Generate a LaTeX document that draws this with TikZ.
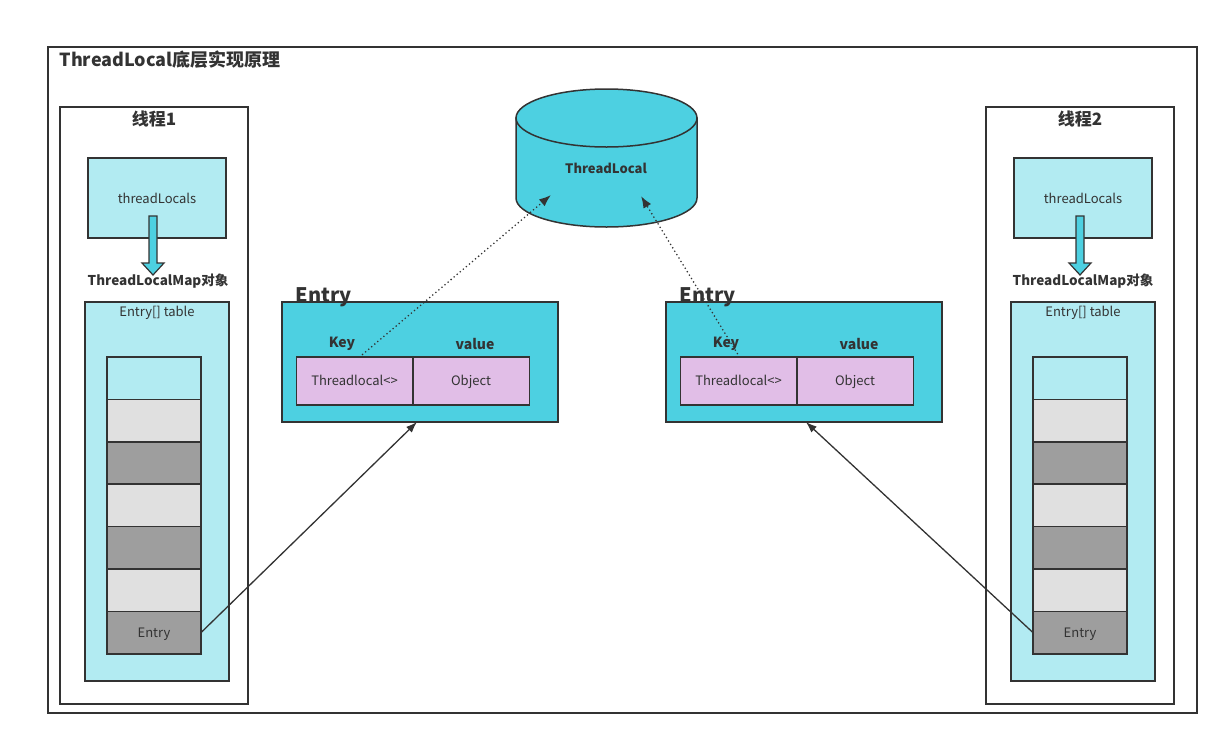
\documentclass[tikz,border=0pt]{standalone}
\usepackage{fontspec}
\setmainfont{Noto Sans CJK SC}
\usetikzlibrary{positioning,arrows.meta,calc}
\definecolor{cyanD}{HTML}{4DD0E1}
\definecolor{cyanL}{HTML}{B2EBF2}
\definecolor{lilac}{HTML}{E1BEE7}
\definecolor{grayD}{HTML}{9E9E9E}
\definecolor{grayL}{HTML}{E0E0E0}
\definecolor{edge}{HTML}{333333}

\begin{document}
\begin{tikzpicture}[
    x=1pt, y=-1pt,
    >=Latex,
    every node/.style={text=edge},
    frame/.style={rectangle, draw=edge, line width=1.5pt, inner sep=0pt, outer sep=0pt, anchor=north west},
    thread/.style={frame, minimum width=188pt, minimum height=597pt},
    locals/.style={frame, fill=cyanL, minimum width=138pt, minimum height=80pt, font=\fontsize{13}{13}\selectfont},
    table/.style={frame, fill=cyanL, minimum width=144pt, minimum height=379pt},
    slot/.style={frame, anchor=center, minimum width=94pt, minimum height=42.4pt, text height=9pt, text depth=0pt, font=\fontsize{13}{13}\selectfont},
    entry/.style={frame, fill=cyanD, minimum width=276pt, minimum height=120pt},
    kv/.style={frame, anchor=center, fill=lilac, minimum width=116.5pt, minimum height=48pt, text height=9pt, text depth=0pt, font=\fontsize{13}{13}\selectfont},
    bold/.style={font=\bfseries\fontsize{#1}{#1}\selectfont},
    ref/.style={->, draw=edge, line width=1.8pt, line cap=round, dash pattern=on 0pt off 4pt, -{Latex[length=12pt,width=9pt]}},
    link/.style={->, draw=edge, line width=1.3pt, -{Latex[length=11pt,width=8pt]}},
    node distance=0pt
  ]
    \useasboundingbox (0,0) rectangle (1229,745);

    % outer frame
    \node[frame, minimum width=1149pt, minimum height=666pt] (outer) at (48,47) {};
    \node[bold=18, anchor=north west] (title) at (56,47) {ThreadLocal底层实现原理};

    % thread 1
    \node[thread] (thA) at (60,107) {};
    \node[bold=17, below=0pt of thA.north] {线程1};
    \node[locals] (locA) at (88,158) {threadLocals};
    \draw[draw=edge, line width=1.2pt, fill=cyanD]
      (149,216) -- (157,216) -- (157,263) -- (164,263) -- (153,275) -- (142,263) -- (149,263) -- cycle;
    \node[bold=13.5] (mapA) at (158,281) {ThreadLocalMap对象};
    \node[table] (tabA) at (85,302) {};
    \node[font=\fontsize{13}{13}\selectfont, below=1pt of tabA.north] {Entry[] table};
    \node[slot, fill=cyanL] (a1) at (154,378.2) {};
    \node[slot, fill=grayL, below=of a1] (a2) {};
    \node[slot, fill=grayD, below=of a2] (a3) {};
    \node[slot, fill=grayL, below=of a3] (a4) {};
    \node[slot, fill=grayD, below=of a4] (a5) {};
    \node[slot, fill=grayL, below=of a5] (a6) {};
    \node[slot, fill=grayD, below=of a6] (a7) {Entry};

    % thread 2
    \node[thread] (thB) at (986,107) {};
    \node[bold=17, below=0pt of thB.north] {线程2};
    \node[locals] (locB) at (1014,158) {threadLocals};
    \draw[draw=edge, line width=1.2pt, fill=cyanD]
      (1076,216) -- (1084,216) -- (1084,263) -- (1091,263) -- (1080,275) -- (1069,263) -- (1076,263) -- cycle;
    \node[bold=13.5] (mapB) at (1083,281) {ThreadLocalMap对象};
    \node[table] (tabB) at (1011,302) {};
    \node[font=\fontsize{13}{13}\selectfont, below=1pt of tabB.north] {Entry[] table};
    \node[slot, fill=cyanL] (b1) at (1080,378.2) {};
    \node[slot, fill=grayL, below=of b1] (b2) {};
    \node[slot, fill=grayD, below=of b2] (b3) {};
    \node[slot, fill=grayL, below=of b3] (b4) {};
    \node[slot, fill=grayD, below=of b4] (b5) {};
    \node[slot, fill=grayL, below=of b5] (b6) {};
    \node[slot, fill=grayD, below=of b6] (b7) {Entry};

    % shared ThreadLocal
    \draw[draw=edge, line width=1.5pt, fill=cyanD]
      (516,118) -- (516,198) arc[start angle=180, end angle=0, x radius=90.5, y radius=29] -- (697,118) -- cycle;
    \draw[draw=edge, line width=1.5pt, fill=cyanD] (606.5,118) ellipse[x radius=90.5, y radius=29];
    \node[bold=13] (db) at (606,168) {ThreadLocal};
    \coordinate (dbA) at (551,195);
    \coordinate (dbB) at (641,196);

    % entries
    \node[entry] (entA) at (282,302) {};
    \node[bold=20, anchor=base west] at ([xshift=10pt]entA.north west) {Entry};
    \node[bold=14] at (342,344) {Key};
    \node[bold=14] at (475,344) {value};
    \node[kv] (keyA) at (354.5,381) {Threadlocal<>};
    \node[kv, right=of keyA] (valA) {Object};

    \node[entry] (entB) at (666,302) {};
    \node[bold=20, anchor=base west] at ([xshift=10pt]entB.north west) {Entry};
    \node[bold=14] at (726,344) {Key};
    \node[bold=14] at (859,344) {value};
    \node[kv] (keyB) at (738.5,381) {Threadlocal<>};
    \node[kv, right=of keyB] (valB) {Object};

    % connectors
    \draw[ref] ([xshift=5pt]keyA.north) -- (dbA);
    \draw[ref] ([xshift=1pt]keyB.north) -- (dbB);
    \draw[link] (a7.east) -- ($(entA.south west)!0.489!(entA.south east)$);
    \draw[link] (b7.west) -- ($(entB.south west)!0.507!(entB.south east)$);
  \end{tikzpicture}
\end{document}
